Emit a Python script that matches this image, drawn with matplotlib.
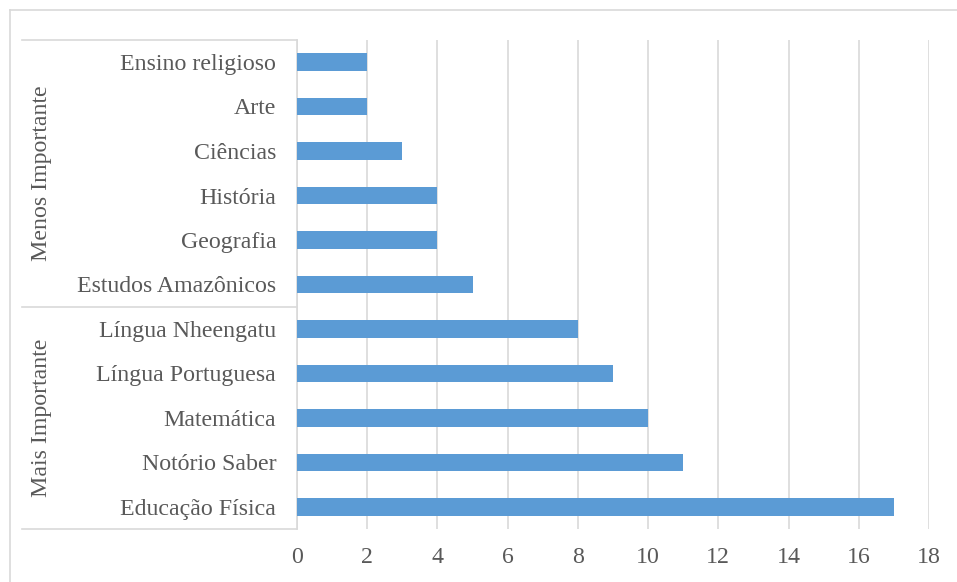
import matplotlib.pyplot as plt
from matplotlib.lines import Line2D

disciplinas = ["Educação Física", "Notório Saber", "Matemática", "Língua Portuguesa",
               "Língua Nheengatu", "Estudos Amazônicos", "Geografia", "História",
               "Ciências", "Arte", "Ensino religioso"]
valores = [17, 11, 10, 9, 8, 5, 4, 4, 3, 2, 2]
grupos = ["Mais Importante", "Menos Importante"]
grupo_tam = [5, 6]
xticks = [0, 2, 4, 6, 8, 10, 12, 14, 16, 18]

plt.rcParams['font.family'] = ['Liberation Serif', 'DejaVu Serif']
W, H = 957, 582
fig = plt.figure(figsize=(W / 100, H / 100), dpi=100)

grid_c = "#D9D9D9"
txt_c = "#595959"
fs = 17.2

# moldura externa
fig.add_artist(Line2D([10 / W, 1], [1 - 10 / H, 1 - 10 / H], color=grid_c, lw=1.2))
fig.add_artist(Line2D([10 / W, 10 / W], [0, 1 - 10 / H], color=grid_c, lw=1.2))

x0, x1 = 297, 929
ytop, ybot = 39.75, 529.25
ax = fig.add_axes([x0 / W, 1 - ybot / H, (x1 - x0) / W, (ybot - ytop) / H])

ypos = list(range(len(disciplinas)))
ax.barh(ypos, valores, height=0.4, color="#5B9BD5", zorder=3)
ax.set_xlim(0, 18)
ax.set_ylim(-0.5, len(disciplinas) - 0.5)
ax.set_xticks(xticks)
ax.set_xticklabels([str(t) for t in xticks])
ax.set_yticks(ypos)
ax.set_yticklabels(disciplinas)
ax.tick_params(axis="x", length=0, pad=13, labelsize=fs, labelcolor=txt_c)
ax.tick_params(axis="y", length=0, pad=15, labelsize=fs, labelcolor=txt_c)
ax.grid(axis="x", color=grid_c, lw=1.2, zorder=0)

for s in ["top", "right", "bottom"]:
    ax.spines[s].set_visible(False)
ax.spines["left"].set_color(grid_c)
ax.spines["left"].set_linewidth(1.2)

# caixas dos grupos
xl = (22 - x0) / (x1 - x0)
tr = ax.get_yaxis_transform()
lim = -0.5
bordas = [lim]
for n in grupo_tam:
    lim += n
    bordas.append(lim)
for b in bordas:
    ax.plot([xl, 0], [b, b], color=grid_c, lw=1.2, transform=tr, clip_on=False)
xg = (42 - x0) / (x1 - x0)
for g, a, b in zip(grupos, bordas[:-1], bordas[1:]):
    ax.text(xg, (a + b) / 2, g, rotation=90, ha="center", va="center",
            fontsize=fs, color=txt_c, transform=tr)

fig.savefig("out.png", dpi=100)
